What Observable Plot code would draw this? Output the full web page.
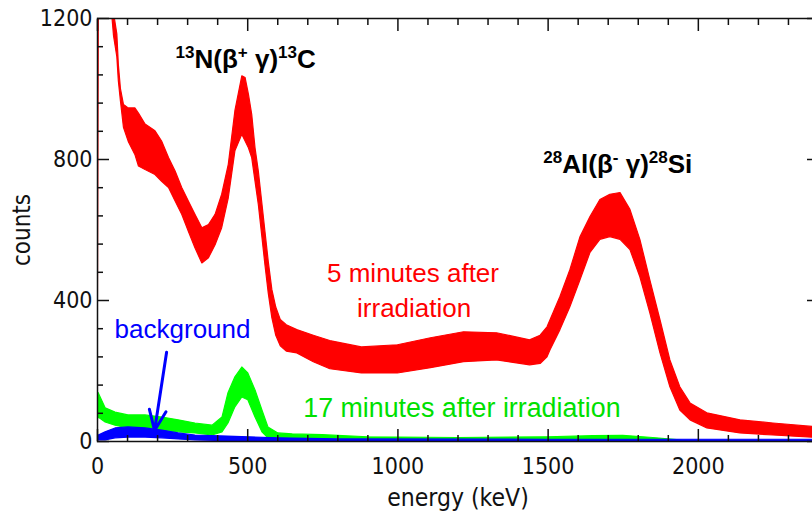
<!DOCTYPE html>
<html><head><meta charset="utf-8">
<script src="https://cdn.jsdelivr.net/npm/d3@7"></script>
<script src="https://cdn.jsdelivr.net/npm/@observablehq/plot@0.6"></script>
<style>
html,body{margin:0;padding:0;background:#fff;overflow:hidden;}
</style></head><body><div id="chart"></div>
<script>
// 5 minutes after irradiation (red) : energy (keV), lower and upper edge of the noisy band (counts)
const redE  = [0,5,45,55,66,71,78,88,104,126,138,160,193,215,238,260,282,304,326,349,371,393,415,437,459,482,493,504,515,526,537,548,559,570,582,595,610,630,665,720,775,880,1000,1110,1220,1330,1440,1475,1498,1508,1541,1574,1608,1641,1674,1707,1741,1774,1807,1840,1874,1907,1940,1974,2030,2140,2250,2400];
const redLo = [0,1400,1250,1150,1090,1022,965,890,850,813,780,770,756,737,719,681,643,595,548,505,520,557,605,690,823,870,851,832,804,737,671,586,500,420,350,300,270,255,250,225,205,193,193,208,225,230,216,220,239,259,316,381,458,535,572,580,572,543,466,364,250,154,88,60,37,23,17,10];
const redHi = [0,1700,1330,1215,1155,1069,1000,955,945,945,930,899,880,851,804,766,719,681,643,605,614,643,700,785,937,1036,1031,984,927,832,766,681,595,510,430,380,345,330,316,300,285,267,273,293,310,307,287,300,324,344,410,486,580,637,685,700,705,657,572,458,344,230,154,108,80,60,51,40];

// 17 minutes after irradiation (green)
const greenE  = [0,4,27,60,103,160,216,270,326,383,416,436,459,482,502,526,549,569,602,650,750,900,1200,1500,1650,1750,1850,1930,1960];
const greenLo = [60,68,54,45,37,37,31,26,23,17,26,51,97,125,117,68,26,9,3,3,3,2,2,2,3,3,2,0,0];
const greenHi = [140,137,94,82,74,74,68,60,51,45,68,137,182,210,193,145,88,40,23,20,18,12,10,12,15,16,10,4,0];

// background (blue)
const blueE  = [0,4,27,60,103,160,216,270,326,433,602,800,1500,2400];
const blueLo = [3,3,3,9,11,11,9,6,3,1,1,0,0,0];
const blueHi = [10,17,26,37,40,37,31,23,17,14,9,6,5,5];

// ticks
const xMajor = [0,500,1000,1500,2000];
const xMinor = [100,200,300,400,600,700,800,900,1100,1200,1300,1400,1600,1700,1800,1900,2100,2200,2300,2400];
const yMajor = [0,400,800,1200];
const yMinor = [80,160,240,320,480,560,640,720,880,960,1040,1120];

const rows = (E, lo, hi) => E.map((e, i) => ({e, lo: lo[i], hi: hi[i]}));
const red = rows(redE, redLo, redHi);
const green = rows(greenE, greenLo, greenHi);
const blue = rows(blueE, blueLo, blueHi);

const sans = "'Liberation Sans', Arial, sans-serif";
const axisFont = "'DejaVu Sans Condensed', 'DejaVu Sans', sans-serif";
const plain = d => String(d);

const band = (data, color) => Plot.areaY(data, {x: "e", y1: "lo", y2: "hi", fill: color, stroke: color, strokeWidth: 1.2, clip: true});
const note = (text, x, y, color, weight, size = 26) => Plot.text([text], {x: () => x, y: () => y, text: d => d, textAnchor: "start", lineAnchor: "middle", fill: color, fontSize: size, fontWeight: weight, fontFamily: sans});

const plot = Plot.plot({
  width: 828, height: 512,
  marginLeft: 97, marginRight: 10, marginTop: 18, marginBottom: 71,
  x: {domain: [0, 2400]},
  y: {domain: [0, 1200]},
  style: {fontFamily: axisFont, fontSize: "23px", color: "#111", background: "#fff"},
  marks: [
    band(red, "#ff0000"),
    band(green, "#00ff00"),
    band(blue, "#0000ff"),
    Plot.arrow([{x1: 230, y1: 253, x2: 190, y2: 31}], {x1: "x1", y1: "y1", x2: "x2", y2: "y2", stroke: "#0000ff", strokeWidth: 3, headLength: 11, headAngle: 45}),
    note("^{13}N(β^{+}\u00a0γ)^{13}C", 260, 1082, "#000", "bold"),
    note("^{28}Al(β^{-} γ)^{28}Si", 1484, 784, "#000", "bold"),
    note("5 minutes after", 764, 475, "#ff0000", "normal"),
    note("irradiation", 864, 376, "#ff0000", "normal"),
    note("background", 57, 316, "#0000ff", "normal"),
    note("17 minutes after irradiation", 685, 93, "#00e000", "normal", 26.8),
    Plot.frame({stroke: "#111", strokeWidth: 1.5}),
    Plot.axisX(xMajor, {anchor: "bottom", tickSize: -12, tickFormat: () => "", label: null, strokeWidth: 1.5}),
    Plot.axisX(xMinor, {anchor: "bottom", tickSize: -6, tickFormat: () => "", label: null, strokeWidth: 1.5}),
    Plot.axisX(xMajor, {anchor: "top", tickSize: -12, tickFormat: () => "", label: null, strokeWidth: 1.5}),
    Plot.axisX(xMinor, {anchor: "top", tickSize: -6, tickFormat: () => "", label: null, strokeWidth: 1.5}),
    Plot.axisX(xMajor, {anchor: "bottom", tickSize: 0, tickPadding: 16, tickFormat: plain, label: null}),
    Plot.axisY(yMajor, {anchor: "left", tickSize: -12, tickFormat: () => "", label: null, strokeWidth: 1.5}),
    Plot.axisY(yMinor, {anchor: "left", tickSize: -6, tickFormat: () => "", label: null, strokeWidth: 1.5}),
    Plot.axisY(yMajor, {anchor: "right", tickSize: -12, tickFormat: () => "", label: null, strokeWidth: 1.5}),
    Plot.axisY(yMinor, {anchor: "right", tickSize: -6, tickFormat: () => "", label: null, strokeWidth: 1.5}),
    Plot.axisY(yMajor, {anchor: "left", tickSize: 0, tickPadding: 5, tickFormat: plain, label: null}),
    Plot.text(["energy (keV)"], {frameAnchor: "bottom", text: d => d, textAnchor: "middle", lineAnchor: "middle", dy: 57, fontSize: 24.5, fill: "#111"}),
    Plot.text(["counts"], {frameAnchor: "left", text: d => d, textAnchor: "middle", lineAnchor: "middle", rotate: -90, dx: -75, fontSize: 24, fill: "#111"})
  ]
});
plot.style.maxWidth = "none";

// superscripts: ^{..} -> raised smaller tspans
d3.select(plot).selectAll("text").each(function () {
  const s = this.textContent;
  if (!s.includes("^{")) return;
  const parts = s.split(/(\^\{[^}]*\})/).filter(p => p);
  this.textContent = "";
  let up = false;
  for (const p of parts) {
    const t = d3.select(this).append("tspan");
    if (p.startsWith("^{")) {
      t.text(p.slice(2, -1)).attr("font-size", 17);
      if (!up) { t.attr("dy", -10); up = true; }
    } else {
      t.text(p);
      if (up) { t.attr("dy", 10); up = false; }
    }
  }
});
document.getElementById("chart").append(plot);
</script></body></html>
